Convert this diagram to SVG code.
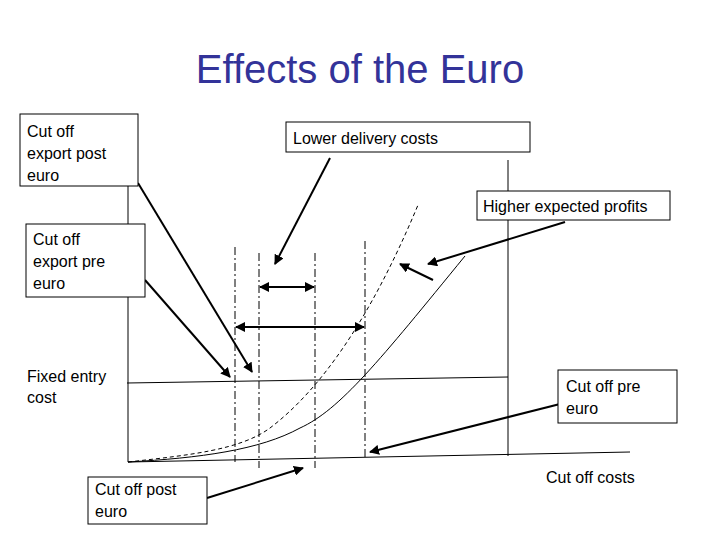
<svg xmlns="http://www.w3.org/2000/svg" width="720" height="540" viewBox="0 0 720 540">
<defs>
<marker id="ah" viewBox="0 0 10 10" refX="9" refY="5" markerWidth="5" markerHeight="5" orient="auto-start-reverse"><path d="M0,0L10,5L0,10z" fill="#000"/></marker>
<style>
text{font-family:"Liberation Sans",Arial,sans-serif;font-size:16px;fill:#000}
.box{fill:#fff;stroke:#000;stroke-width:1}
.ln{stroke:#000;fill:none;stroke-width:1}
.dd{stroke:#000;fill:none;stroke-width:1;stroke-dasharray:8,3,2,3}
.ar{stroke:#000;stroke-width:2;fill:none;marker-end:url(#ah)}
</style>
</defs>
<rect width="720" height="540" fill="#fff"/>
<text x="360" y="83" text-anchor="middle" style="font-size:40px;fill:#333399">Effects of the Euro</text>
<g id="axes">
<path class="ln" d="M128,185V462L630,452"/>
<path class="ln" d="M508,160V456"/>
<path class="ln" d="M127,383L508,377"/>
<path class="dd" d="M235,247V462M259,253V468M315,253V468M365,241V458"/>
<path class="ln" d="M128,462C200,458 260,450 300,428C340,410 380,360 465,256"/>
<path class="ln" stroke-dasharray="4,3" d="M128,462C190,455 240,450 270,428C320,390 370,320 418,205"/>
</g>
<g id="connectors">
<path class="ar" style="marker-start:url(#ah)" d="M260,287H314"/>
<path class="ar" style="marker-start:url(#ah)" d="M236,327H364"/>
<path class="ar" d="M138,183L252,372"/>
<path class="ar" d="M145,280L230,377"/>
<path class="ar" d="M330,158L275,264"/>
<path class="ar" d="M565,222L428,264"/>
<path class="ar" d="M433,280L400,264"/>
<path class="ar" d="M560,404L370,452"/>
<path class="ar" d="M207,498L303,468"/>
</g>
<g id="n1"><rect class="box" x="20" y="114" width="118" height="72"/><text x="27" y="137">Cut off</text><text x="27" y="159">export post</text><text x="27" y="181">euro</text></g>
<g id="n2"><rect class="box" x="286" y="122" width="244" height="30"/><text x="293" y="144">Lower delivery costs</text></g>
<g id="n3"><rect class="box" x="477" y="191" width="193" height="29"/><text x="483" y="212">Higher expected profits</text></g>
<g id="n4"><rect class="box" x="26" y="224" width="119" height="73"/><text x="33" y="245">Cut off</text><text x="33" y="267">export pre</text><text x="33" y="289">euro</text></g>
<g id="n5"><text x="27" y="382">Fixed entry</text><text x="27" y="403">cost</text></g>
<g id="n6"><rect class="box" x="558" y="370" width="119" height="53"/><text x="566" y="392">Cut off pre</text><text x="566" y="414">euro</text></g>
<g id="n7"><rect class="box" x="88" y="477" width="119" height="47"/><text x="95" y="495">Cut off post</text><text x="95" y="517">euro</text></g>
<g id="n8"><text x="546" y="483">Cut off costs</text></g>
</svg>
